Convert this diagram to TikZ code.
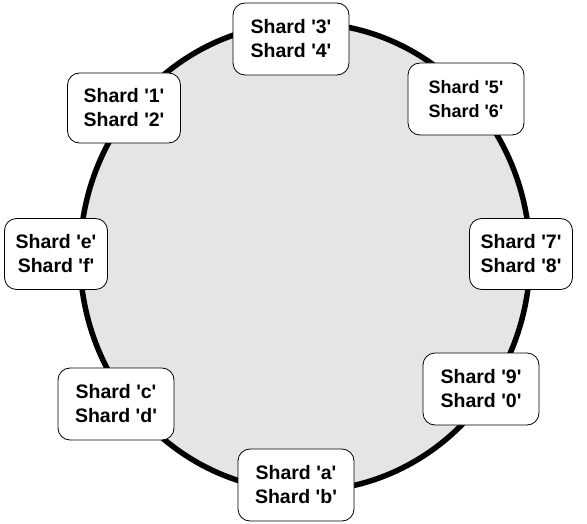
\documentclass[tikz,border=0pt]{standalone}
\usepackage{fontspec}
\setmainfont{Liberation Sans}
\newcommand{\sq}{\textquotesingle}
\begin{document}
\begin{tikzpicture}[x=1pt,y=-1pt,
  shardbox/.style={draw=black, line width=0.8pt, fill=white, rounded corners=12pt,
    minimum width=116pt, minimum height=72pt, align=center, inner sep=0pt,
    font=\fontsize{19.5}{24}\selectfont\bfseries},
  narrowbox/.style={shardbox, minimum width=103pt, minimum height=71pt},
  smallbox/.style={shardbox, font=\fontsize{18}{24}\selectfont\bfseries}]
\useasboundingbox (0,0) rectangle (587,524);
\draw[line width=5.5pt, fill=black!10] (305,257) ellipse [x radius=225, y radius=234];
\node[shardbox] (s34) at (291,39) {Shard \sq3\sq\\Shard \sq4\sq};
\node[smallbox] (s56) at (466,99) {Shard \sq5\sq\\Shard \sq6\sq};
\node[narrowbox] (s78) at (521,254) {Shard \sq7\sq\\Shard \sq8\sq};
\node[shardbox] (s90) at (481,389) {Shard \sq9\sq\\Shard \sq0\sq};
\node[shardbox] (sab) at (296,485) {Shard \sq a\sq\\Shard \sq b\sq};
\node[shardbox] (scd) at (116,404) {Shard \sq c\sq\\Shard \sq d\sq};
\node[narrowbox] (sef) at (56,254) {Shard \sq e\sq\\Shard \sq f\sq};
\node[shardbox, minimum width=113pt, minimum height=70pt] (s12) at (124,108) {Shard \sq1\sq\\Shard \sq2\sq};
\end{tikzpicture}
\end{document}
